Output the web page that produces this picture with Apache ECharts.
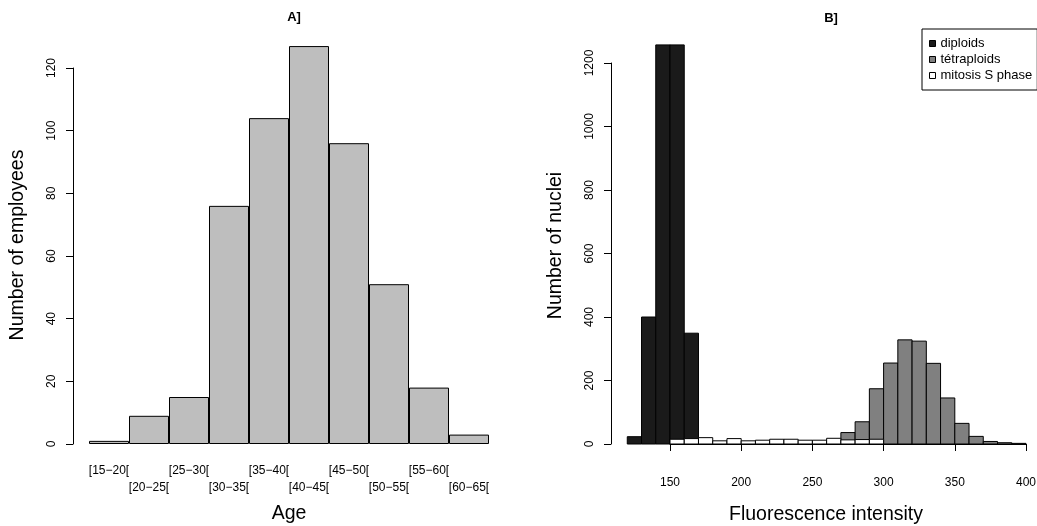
<!DOCTYPE html>
<html>
<head>
<meta charset="utf-8">
<script src="https://cdn.jsdelivr.net/npm/echarts@6/dist/echarts.min.js"></script>
<style>
  html, body { margin: 0; padding: 0; background: #fff; }
  #chart { width: 1037px; height: 526px; }
</style>
</head>
<body>
<div id="chart"></div>
<script>
// A] age classes of employees
const ageClasses = ['[15−20[', '[20−25[', '[25−30[', '[30−35[', '[35−40[',
                    '[40−45[', '[45−50[', '[50−55[', '[55−60[', '[60−65['];
const employees = [1, 9, 15, 76, 104, 127, 96, 51, 18, 3];

// B] fluorescence histogram, bins of width 10 starting at these values
const binWidth = 10;
const binStarts = [120, 130, 140, 150, 160, 170, 180, 190, 200, 210, 220, 230, 240, 250,
                   260, 270, 280, 290, 300, 310, 320, 330, 340, 350, 360, 370, 380, 390];
// the two tallest diploid bars are cut at the top of the plot
const diploids    = [23, 400, 1257, 1257, 349, 0, 0, 0, 0, 0, 0, 0, 0, 0,
                     0, 0, 0, 0, 0, 0, 0, 0, 0, 0, 0, 0, 0, 0];
const tetraploids = [0, 0, 0, 0, 0, 0, 0, 0, 0, 0, 0, 0, 0, 0,
                     0, 36, 70, 174, 255, 328, 324, 254, 145, 65, 24, 8, 4, 2];
const mitosis     = [0, 0, 0, 15, 17, 20, 10, 17, 10, 12, 15, 15, 12, 12,
                     18, 13, 14, 15, 0, 0, 0, 0, 0, 0, 0, 0, 0, 0];

const FONT = '"Liberation Sans", Arial, sans-serif';

function histData(values) {
    const out = [];
    for (let i = 0; i < binStarts.length; i++) {
        if (values[i] > 0) out.push([binStarts[i], values[i]]);
    }
    return out;
}

function histSeries(name, values, fill) {
    return {
        name: name,
        type: 'custom',
        xAxisIndex: 1,
        yAxisIndex: 1,
        clip: false,
        itemStyle: { color: fill, borderColor: '#000', borderWidth: 1 },
        renderItem: function (params, api) {
            const start = api.value(0);
            const count = api.value(1);
            const p0 = api.coord([start, 0]);
            const p1 = api.coord([start + binWidth, count]);
            return {
                type: 'rect',
                shape: { x: p0[0], y: p1[1], width: p1[0] - p0[0], height: p0[1] - p1[1] },
                style: { fill: fill, stroke: '#000', lineWidth: 1 }
            };
        },
        data: histData(values)
    };
}

const axisLineStyle = { show: true, lineStyle: { color: '#000', width: 1 } };
const tickStyle = { show: true, inside: false, length: 7, lineStyle: { color: '#000', width: 1 } };
const tickLabel = { color: '#000', fontFamily: FONT, fontSize: 12 };
const nameStyle = { color: '#000', fontFamily: FONT, fontSize: 19.5 };
const plainNumber = function (v) { return String(v); };

const chart = echarts.init(document.getElementById('chart'));
chart.setOption({
    animation: false,
    backgroundColor: '#fff',
    title: [
        { text: 'A]', left: 289, top: 6, textAlign: 'center',
          textStyle: { fontFamily: FONT, fontSize: 13, fontWeight: 'bold', color: '#000' } },
        { text: 'B]', left: 826, top: 7, textAlign: 'center',
          textStyle: { fontFamily: FONT, fontSize: 13, fontWeight: 'bold', color: '#000' } }
    ],
    legend: {
        orient: 'vertical',
        left: 922,
        top: 29,
        padding: [8, 5, 8, 7],
        itemGap: 3,
        itemWidth: 6,
        itemHeight: 6,
        icon: 'rect',
        borderColor: '#000',
        borderWidth: 1,
        borderRadius: 0,
        textStyle: { fontFamily: FONT, fontSize: 13, color: '#000' },
        data: [
            { name: 'diploids', itemStyle: { color: '#1a1a1a', borderColor: '#000', borderWidth: 1 } },
            { name: 'tétraploids', itemStyle: { color: '#808080', borderColor: '#000', borderWidth: 1 } },
            { name: 'mitosis S phase', itemStyle: { color: '#fff', borderColor: '#000', borderWidth: 1 } }
        ]
    },
    grid: [
        { left: 89, right: 548, top: 68, bottom: 82, outerBoundsMode: 'none' },
        { left: 670, right: 11, top: 63, bottom: 82, outerBoundsMode: 'none' }
    ],
    xAxis: [
        {
            gridIndex: 0,
            type: 'category',
            data: ageClasses,
            boundaryGap: true,
            axisLine: { show: false },
            axisTick: { show: false },
            axisLabel: Object.assign({}, tickLabel, {
                interval: 0,
                margin: 18,
                lineHeight: 17,
                formatter: function (v, i) { return i % 2 ? '\n' + v : v; }
            }),
            splitLine: { show: false },
            name: 'Age',
            nameLocation: 'middle',
            nameGap: 60,
            nameTextStyle: nameStyle
        },
        {
            gridIndex: 1,
            type: 'value',
            min: 150,
            max: 400,
            interval: 50,
            offset: 17,
            axisLine: axisLineStyle,
            axisTick: tickStyle,
            axisLabel: Object.assign({}, tickLabel, { margin: 16 }),
            splitLine: { show: false },
            name: 'Fluorescence intensity',
            nameLocation: 'middle',
            nameGap: 44,
            nameTextStyle: Object.assign({}, nameStyle, { padding: [0, 44, 0, 0] })
        }
    ],
    yAxis: [
        {
            gridIndex: 0,
            type: 'value',
            min: 0,
            max: 120,
            interval: 20,
            offset: 16,
            axisLine: axisLineStyle,
            axisTick: tickStyle,
            axisLabel: Object.assign({}, tickLabel, { rotate: 90, margin: 15, formatter: plainNumber }),
            splitLine: { show: false },
            name: 'Number of employees',
            nameLocation: 'middle',
            nameGap: 45,
            nameTextStyle: Object.assign({}, nameStyle, { padding: [0, 0, 0, 22] })
        },
        {
            gridIndex: 1,
            type: 'value',
            min: 0,
            max: 1200,
            interval: 200,
            offset: 59,
            axisLine: axisLineStyle,
            axisTick: tickStyle,
            axisLabel: Object.assign({}, tickLabel, { rotate: 90, margin: 15, formatter: plainNumber }),
            splitLine: { show: false },
            name: 'Number of nuclei',
            nameLocation: 'middle',
            nameGap: 45,
            nameTextStyle: Object.assign({}, nameStyle, { padding: [0, 0, 0, 16] })
        }
    ],
    series: [
        {
            name: 'employees',
            type: 'bar',
            xAxisIndex: 0,
            yAxisIndex: 0,
            barCategoryGap: 0,
            clip: false,
            itemStyle: { color: '#bebebe', borderColor: '#000', borderWidth: 1 },
            data: employees
        },
        histSeries('diploids', diploids, '#1a1a1a'),
        histSeries('tétraploids', tetraploids, '#808080'),
        histSeries('mitosis S phase', mitosis, '#ffffff')
    ]
});
</script>
</body>
</html>
